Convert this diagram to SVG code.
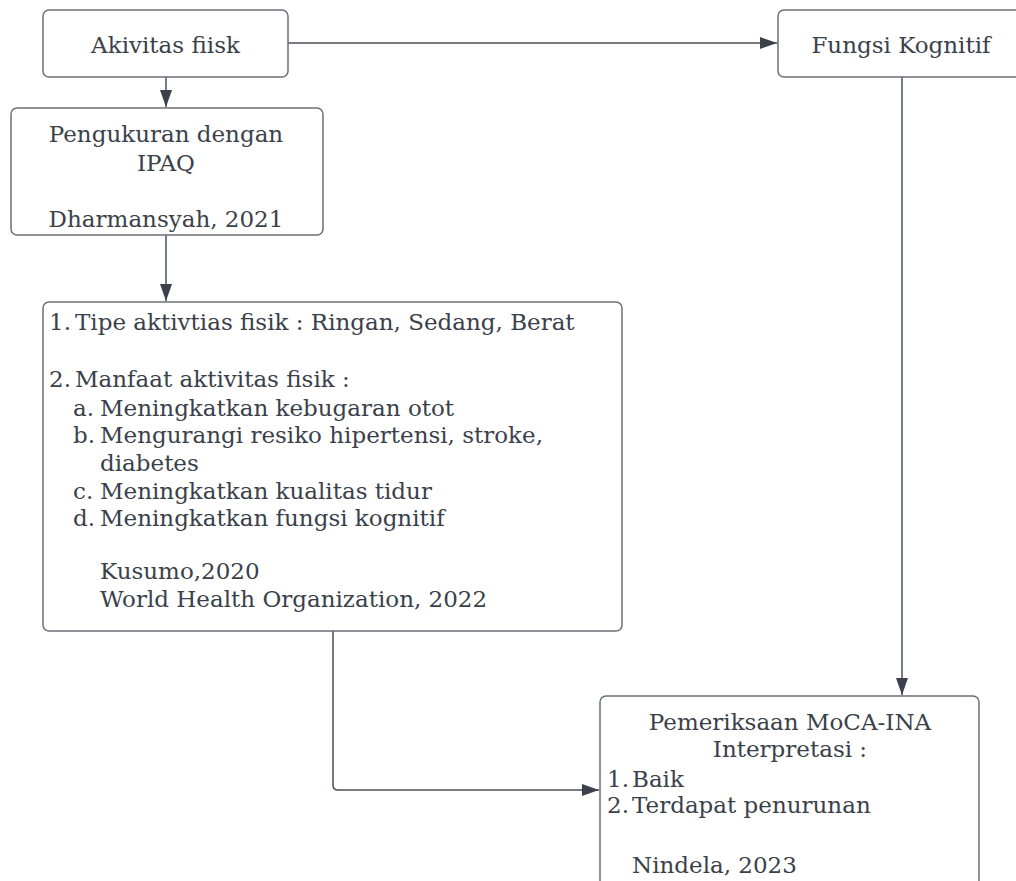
<svg xmlns="http://www.w3.org/2000/svg" width="1016" height="881" viewBox="0 0 1016 881">
<defs>
<style>
.box{fill:#ffffff;stroke:#6b7078;stroke-width:1.5}
.t{font-family:"DejaVu Serif","Liberation Serif",serif;font-size:23px;fill:#3a414a}
.c{text-anchor:middle}
.ln{fill:none;stroke:#4a5059;stroke-width:1.5}
</style>
<marker id="ah" markerUnits="userSpaceOnUse" markerWidth="18" markerHeight="12" refX="17" refY="6" orient="auto">
<path d="M0,0 L17,6 L0,12 z" fill="#3a414a"/>
</marker>
</defs>
<rect width="1016" height="881" fill="#ffffff"/>
<g id="connectors">
<path class="ln" d="M166,77 V107" marker-end="url(#ah)"/>
<path class="ln" d="M288,43 H777" marker-end="url(#ah)"/>
<path class="ln" d="M166,235 V301" marker-end="url(#ah)"/>
<path class="ln" d="M902,77 V695" marker-end="url(#ah)"/>
<path class="ln" d="M333,631 V785 Q333,790 338,790 H599" marker-end="url(#ah)"/>
</g>
<g id="akivitas">
<rect class="box" x="43" y="10" width="245" height="67" rx="6"/>
<text class="t c" x="165.5" y="53">Akivitas fiisk</text>
</g>
<g id="fungsi">
<rect class="box" x="778" y="10" width="246" height="67" rx="6"/>
<text class="t c" x="901" y="53">Fungsi Kognitif</text>
</g>
<g id="ipaq">
<rect class="box" x="11" y="108" width="312" height="127" rx="6"/>
<text class="t c" x="166" y="142">Pengukuran dengan</text>
<text class="t c" x="166" y="171">IPAQ</text>
<text class="t c" x="166" y="227">Dharmansyah, 2021</text>
</g>
<g id="manfaat">
<rect class="box" x="43" y="302" width="579" height="329" rx="6"/>
<text class="t" x="49" y="330">1.</text>
<text class="t" x="75" y="330">Tipe aktivtias fisik : Ringan, Sedang, Berat</text>
<text class="t" x="49" y="387">2.</text>
<text class="t" x="75" y="387">Manfaat aktivitas fisik :</text>
<text class="t" x="73" y="416">a.</text>
<text class="t" x="100" y="416">Meningkatkan kebugaran otot</text>
<text class="t" x="73" y="443">b.</text>
<text class="t" x="100" y="443">Mengurangi resiko hipertensi, stroke,</text>
<text class="t" x="100" y="471">diabetes</text>
<text class="t" x="73" y="499">c.</text>
<text class="t" x="100" y="499">Meningkatkan kualitas tidur</text>
<text class="t" x="73" y="526">d.</text>
<text class="t" x="100" y="526">Meningkatkan fungsi kognitif</text>
<text class="t" x="100" y="579">Kusumo,2020</text>
<text class="t" x="100" y="607">World Health Organization, 2022</text>
</g>
<g id="moca">
<rect class="box" x="600" y="696" width="379" height="220" rx="6"/>
<text class="t c" x="790" y="730">Pemeriksaan MoCA-INA</text>
<text class="t c" x="790" y="757">Interpretasi :</text>
<text class="t" x="607" y="787">1.</text>
<text class="t" x="632" y="787">Baik</text>
<text class="t" x="607" y="813">2.</text>
<text class="t" x="632" y="813">Terdapat penurunan</text>
<text class="t" x="632" y="873">Nindela, 2023</text>
</g>
</svg>
